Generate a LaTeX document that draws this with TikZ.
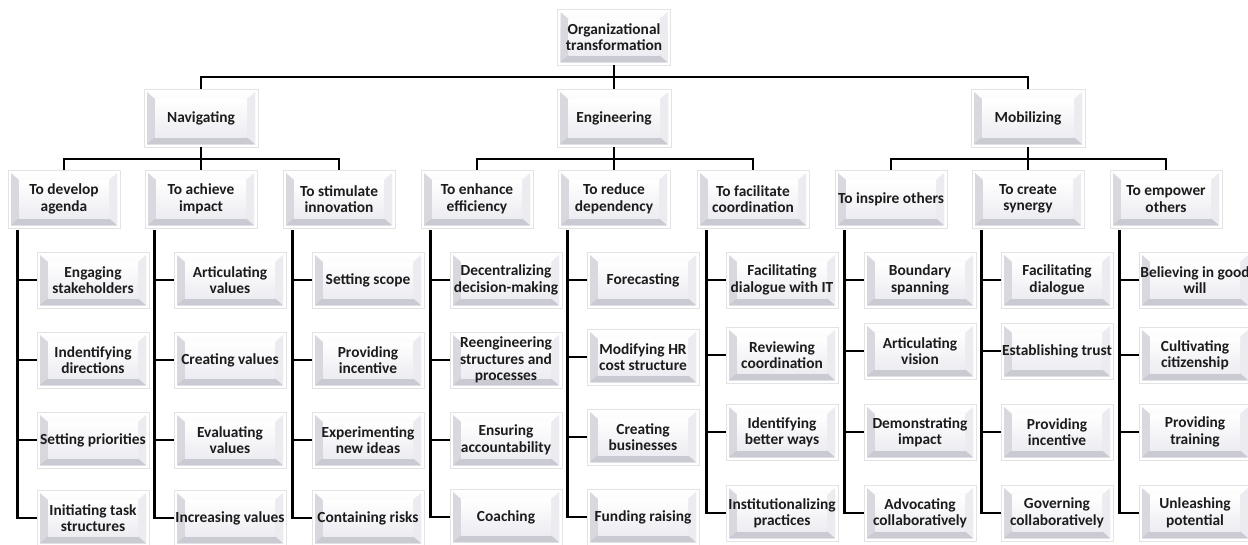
\documentclass[tikz,border=0pt]{standalone}
\usepackage{fontspec}
\setmainfont{Carlito}
\definecolor{lav}{RGB}{228,228,236}
\definecolor{bvleft}{RGB}{216,216,222}
\definecolor{bvbot}{RGB}{202,202,210}
\definecolor{bvright}{RGB}{236,236,240}
\definecolor{txt}{RGB}{28,28,28}
\tikzset{
  bev/.style={draw=gray!22, line width=0.6pt, fill=white, align=center, inner sep=0pt,
    text=txt, font=\bfseries\fontsize{15.4}{16.4}\selectfont,
    path picture={
      \coordinate (bvA) at ([xshift=3pt,yshift=3pt]path picture bounding box.south west);
      \coordinate (bvB) at ([xshift=-3pt,yshift=-3pt]path picture bounding box.north east);
      \coordinate (bvC) at ([xshift=8pt,yshift=7pt]bvA);
      \coordinate (bvD) at ([xshift=-8pt,yshift=-7pt]bvB);
      \fill[top color=white,bottom color=lav] (bvA) rectangle (bvB);
      \fill[bvleft] (bvA) -- (bvA |- bvB) -- (bvC |- bvD) -- (bvC) -- cycle;
      \fill[bvbot] (bvA) -- (bvC) -- (bvD |- bvC) -- (bvB |- bvA) -- cycle;
      \fill[bvright] (bvB |- bvA) -- (bvD |- bvC) -- (bvD) -- (bvB) -- cycle;
      \fill[top color=white,bottom color=lav!70] (bvC) rectangle (bvD);
    }},
  rootbox/.style={bev, minimum width=113pt, minimum height=56pt},
  lonebox/.style={bev, minimum width=114pt, minimum height=58pt},
  ltwobox/.style={bev, minimum width=112pt, minimum height=58pt},
  leafbox/.style={bev, minimum width=112pt, minimum height=56pt},
  conn/.style={draw=black, line width=2.8pt}
}
\begin{document}
\begin{tikzpicture}[x=1pt,y=-1pt]
\clip (0,0) rectangle (1248,544);
\fill[white] (0,0) rectangle (1248,544);
% root and level 1
\node[rootbox] (root) at (614,37) {Organizational\\transformation};
\node[lonebox] (nav) at (201,118) {Navigating};
\node[lonebox] (eng) at (614,118) {Engineering};
\node[lonebox] (mob) at (1028,118) {Mobilizing};
\coordinate (h0) at (614,77);
% level 2
\node[ltwobox] (c1) at (64,199) {To develop\\agenda};
\node[ltwobox] (c2) at (201,199) {To achieve\\impact};
\node[ltwobox] (c3) at (339,199) {To stimulate\\innovation};
\node[ltwobox] (c4) at (477,199) {To enhance\\efficiency};
\node[ltwobox] (c5) at (614,199) {To reduce\\dependency};
\node[ltwobox] (c6) at (753,199) {To facilitate\\coordination};
\node[ltwobox] (c7) at (891,199) {To inspire others};
\node[ltwobox] (c8) at (1028,199) {To create\\synergy};
\node[ltwobox] (c9) at (1166,199) {To empower\\others};
\coordinate (h1) at (201,159);
\coordinate (h2) at (614,159);
\coordinate (h3) at (1028,159);
% leaves
\node[leafbox] (l11) at (93,280) {Engaging\\stakeholders};
\node[leafbox] (l12) at (93,360) {Indentifying\\directions};
\node[leafbox] (l13) at (93,440) {Setting priorities};
\node[leafbox] (l14) at (93,518) {Initiating task\\structures};
\node[leafbox] (l21) at (230,280) {Articulating\\values};
\node[leafbox] (l22) at (230,360) {Creating values};
\node[leafbox] (l23) at (230,440) {Evaluating\\values};
\node[leafbox] (l24) at (230,518) {Increasing values};
\node[leafbox] (l31) at (368,280) {Setting scope};
\node[leafbox] (l32) at (368,360) {Providing\\incentive};
\node[leafbox] (l33) at (368,440) {Experimenting\\new ideas};
\node[leafbox] (l34) at (368,518) {Containing risks};
\node[leafbox] (l41) at (506,280) {Decentralizing\\decision-making};
\node[leafbox] (l42) at (506,360) {Reengineering\\structures and\\processes};
\node[leafbox] (l43) at (506,440) {Ensuring\\accountability};
\node[leafbox] (l44) at (506,517) {Coaching};
\node[leafbox] (l51) at (643,280) {Forecasting};
\node[leafbox] (l52) at (643,357) {Modifying HR\\cost structure};
\node[leafbox] (l53) at (643,437) {Creating\\businesses};
\node[leafbox] (l54) at (643,517) {Funding raising};
\node[leafbox] (l61) at (782,280) {Facilitating\\dialogue with IT};
\node[leafbox] (l62) at (782,355) {Reviewing\\coordination};
\node[leafbox] (l63) at (782,432) {Identifying\\better ways};
\node[leafbox] (l64) at (782,513) {Institutionalizing\\practices};
\node[leafbox] (l71) at (920,280) {Boundary\\spanning};
\node[leafbox] (l72) at (920,351) {Articulating\\vision};
\node[leafbox] (l73) at (920,432) {Demonstrating\\impact};
\node[leafbox] (l74) at (920,513) {Advocating\\collaboratively};
\node[leafbox] (l81) at (1057,280) {Facilitating\\dialogue};
\node[leafbox] (l82) at (1057,351) {Establishing trust};
\node[leafbox] (l83) at (1057,432) {Providing\\incentive};
\node[leafbox] (l84) at (1057,513) {Governing\\collaboratively};
\node[leafbox] (l91) at (1195,280) {Believing in good\\will};
\node[leafbox] (l92) at (1195,355) {Cultivating\\citizenship};
\node[leafbox] (l93) at (1195,432) {Providing\\training};
\node[leafbox] (l94) at (1195,513) {Unleashing\\potential};
% connectors
\draw[conn] (root.south) -- (eng.north);
\draw[conn] (nav.north) |- (h0) -| (mob.north);
\draw[conn] (nav.south) -- (c2.north);
\draw[conn] (c1.north) |- (h1) -| (c3.north);
\draw[conn] (eng.south) -- (c5.north);
\draw[conn] (c4.north) |- (h2) -| (c6.north);
\draw[conn] (mob.south) -- (c8.north);
\draw[conn] (c7.north) |- (h3) -| (c9.north);
\foreach \i in {1,...,9}{
  \draw[conn] ([xshift=10pt,yshift=-2pt]c\i.south west) |- (l\i4.west);
  \foreach \j in {1,2,3}{
    \draw[conn] (l\i\j.west) -- ++(-19,0);
  }
}
\end{tikzpicture}
\end{document}
